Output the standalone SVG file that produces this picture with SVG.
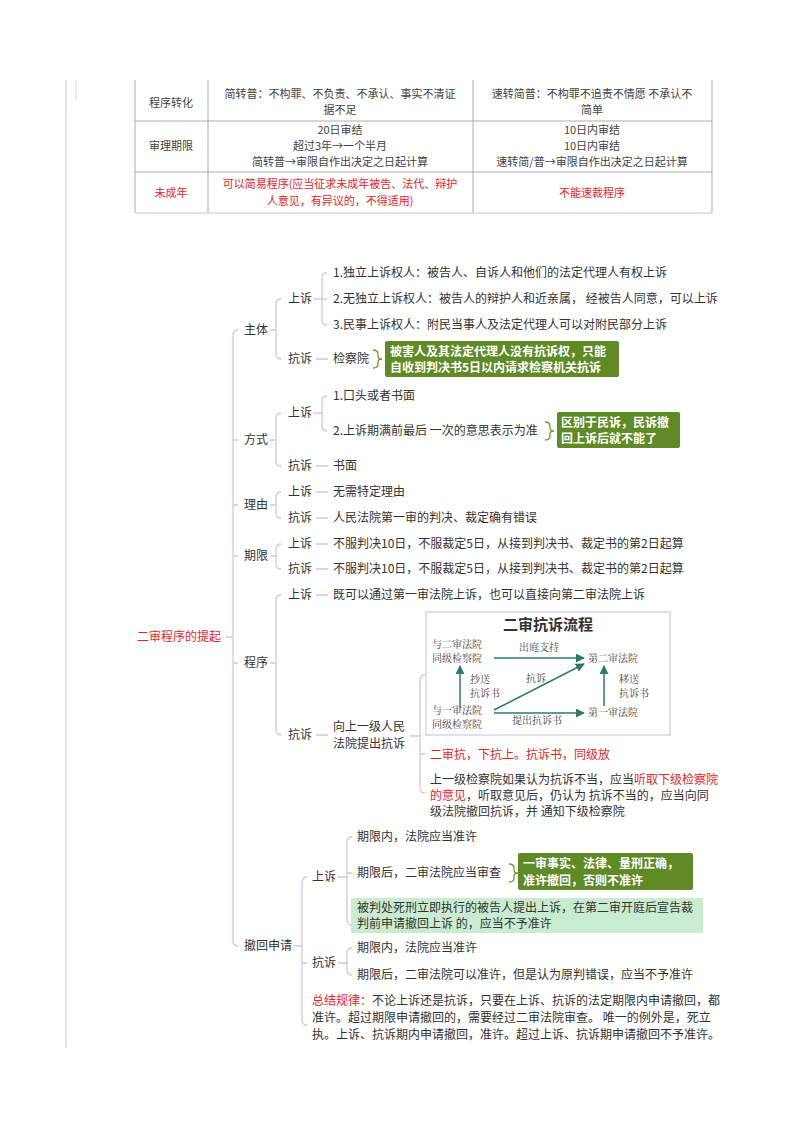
<svg xmlns="http://www.w3.org/2000/svg" width="800" height="1132" viewBox="0 0 800 1132">
<defs>
<style>
text{font-family:"Noto Sans CJK SC","Noto Sans",sans-serif;font-size:12px;fill:#333}
.t{font-size:11px;fill:#444;text-anchor:middle}
.r{fill:#e8231f}
.c{fill:none;stroke:#cfc8ee;stroke-width:1.3}
.g{fill:#5f8a26;}
.w{fill:#fff;font-weight:bold;font-size:12px}
.f{font-family:"Noto Serif CJK SC","Noto Sans CJK SC",serif;font-size:10px;fill:#444}
.a{stroke:#2e7a6a;stroke-width:1.5;fill:none;marker-end:url(#ar)}
.br{fill:none;stroke:#6f9a2e;stroke-width:1.3}
</style>
<marker id="ar" viewBox="0 0 10 10" refX="9" refY="5" markerWidth="6" markerHeight="6" orient="auto"><path d="M0,0L10,5L0,10z" fill="#2e7a6a"/></marker>
</defs>
<rect width="800" height="1132" fill="#fff"/>
<line x1="66" y1="80" x2="66" y2="1048" stroke="#d8d4ea" stroke-width="1.5"/>
<line x1="76" y1="80" x2="76" y2="100" stroke="#d8d4ea" stroke-width="1"/>
<g id="table">
<g fill="none" stroke="#999" stroke-width="0.8">
<line x1="135" y1="80" x2="135" y2="213"/><line x1="208" y1="80" x2="208" y2="213"/><line x1="473" y1="80" x2="473" y2="213"/><line x1="712" y1="80" x2="712" y2="213"/>
<line x1="135" y1="121" x2="712" y2="121"/><line x1="135" y1="172" x2="712" y2="172"/>
</g>
<line x1="135" y1="213" x2="712" y2="213" stroke="#c8c2e6" stroke-width="1.2"/>
<text class="t" x="171" y="107">程序转化</text>
<text class="t" x="340" y="98">简转普：不构罪、不负责、不承认、事实不清证</text>
<text class="t" x="340" y="114">据不足</text>
<text class="t" x="592" y="98">速转简普：不构罪不追责不情愿 不承认不</text>
<text class="t" x="592" y="114">简单</text>
<text class="t" x="171" y="150">审理期限</text>
<text class="t" x="340" y="134">20日审结</text>
<text class="t" x="340" y="150">超过3年→一个半月</text>
<text class="t" x="340" y="166">简转普→审限自作出决定之日起计算</text>
<text class="t" x="592" y="134">10日内审结</text>
<text class="t" x="592" y="150">10日内审结</text>
<text class="t" x="592" y="166">速转简/普→审限自作出决定之日起计算</text>
<text class="t r" x="171" y="197">未成年</text>
<text class="t r" x="340" y="188">可以简易程序(应当征求未成年被告、法代、辩护</text>
<text class="t r" x="340" y="205">人意见，有异议的，不得适用)</text>
<text class="t r" x="592" y="197">不能速裁程序</text>
</g>
<g id="connectors">
<path class="c" d="M226,637H233M238,330Q233,330 233,335V941Q233,946 238,946M233,440H238M233,505H238M233,556H238M233,663H238"/>
<path class="c" d="M270,330H276M281,299Q276,299 276,304V354Q276,359 281,359"/>
<path class="c" d="M314,299H322M327,273Q322,273 322,278V320Q322,325 327,325M322,299H327M316,359H328"/>
<path class="c" d="M270,440H276M281,413Q276,413 276,418V461Q276,466 281,466M316,466H328"/>
<path class="c" d="M314,413H322M327,396Q322,396 322,401V426Q322,431 327,431"/>
<path class="c" d="M270,505H276M281,492Q276,492 276,497V513Q276,518 281,518M316,492H328M316,518H328"/>
<path class="c" d="M270,556H276M281,544Q276,544 276,549V564Q276,569 281,569M316,544H328M316,569H328"/>
<path class="c" d="M270,663H276M281,595Q276,595 276,600V730Q276,735 281,735M316,595H328M316,735H328"/>
<path class="c" d="M410,736H420M425,675Q420,675 420,680V788Q420,793 425,793M420,754H425"/>
<path class="c" d="M294,946H302M307,877Q302,877 302,882V1020Q302,1025 307,1025M302,963H307"/>
<path class="c" d="M338,877H347M352,837Q347,837 347,842V920Q347,925 352,925M347,873H352"/>
<path class="c" d="M338,963H347M352,948Q347,948 347,953V970Q347,975 352,975"/>
</g>
<g id="root"><text class="r" x="137" y="641">二审程序的提起</text></g>
<g id="zhuti">
<text x="244" y="334">主体</text>
<text x="288" y="303">上诉</text>
<text x="333" y="277">1.独立上诉权人：被告人、自诉人和他们的法定代理人有权上诉</text>
<text x="333" y="303">2.无独立上诉权人：被告人的辩护人和近亲属，  经被告人同意，可以上诉</text>
<text x="333" y="329">3.民事上诉权人：附民当事人及法定代理人可以对附民部分上诉</text>
<text x="288" y="363">抗诉</text>
<text x="333" y="363">检察院</text>
<path class="br" d="M373,350Q378,350 378,354V356Q378,359 382,359Q378,359 378,362V364Q378,368 373,368"/>
<rect class="g" x="385" y="341" width="234" height="36" rx="2"/>
<text class="w" x="390" y="356">被害人及其法定代理人没有抗诉权，只能</text>
<text class="w" x="390" y="372">自收到判决书5日以内请求检察机关抗诉</text>
</g>
<g id="fangshi">
<text x="244" y="444">方式</text>
<text x="288" y="417">上诉</text>
<text x="333" y="400">1.口头或者书面</text>
<text x="333" y="435">2.上诉期满前最后 一次的意思表示为准</text>
<path class="br" d="M545,422Q550,422 550,426V428Q550,431 554,431Q550,431 550,434V436Q550,440 545,440"/>
<rect class="g" x="557" y="412" width="123" height="36" rx="2"/>
<text class="w" x="561" y="427">区别于民诉，民诉撤</text>
<text class="w" x="561" y="443">回上诉后就不能了</text>
<text x="288" y="470">抗诉</text>
<text x="333" y="470">书面</text>
</g>
<g id="liyou">
<text x="244" y="509">理由</text>
<text x="288" y="496">上诉</text><text x="333" y="496">无需特定理由</text>
<text x="288" y="522">抗诉</text><text x="333" y="522">人民法院第一审的判决、裁定确有错误</text>
</g>
<g id="qixian">
<text x="244" y="560">期限</text>
<text x="288" y="548">上诉</text><text x="333" y="548">不服判决10日，不服裁定5日，从接到判决书、裁定书的第2日起算</text>
<text x="288" y="573">抗诉</text><text x="333" y="573">不服判决10日，不服裁定5日，从接到判决书、裁定书的第2日起算</text>
</g>
<g id="chengxu">
<text x="244" y="667">程序</text>
<text x="288" y="599">上诉</text><text x="333" y="599">既可以通过第一审法院上诉，也可以直接向第二审法院上诉</text>
<text x="288" y="739">抗诉</text>
<text x="333" y="731">向上一级人民</text>
<text x="333" y="748">法院提出抗诉</text>
<rect x="426" y="612" width="244" height="123" fill="#fff" stroke="#cfc8ee" stroke-width="1.2"/>
<text x="548" y="630" text-anchor="middle" style="font-size:15px;font-weight:bold;fill:#333">二审抗诉流程</text>
<text class="f" x="432" y="648">与二审法院</text>
<text class="f" x="432" y="662">同级检察院</text>
<text class="f" x="588" y="662">第二审法院</text>
<text class="f" x="432" y="714">与一审法院</text>
<text class="f" x="432" y="728">同级检察院</text>
<text class="f" x="588" y="716">第一审法院</text>
<line class="a" x1="494" y1="658" x2="584" y2="658"/>
<text class="f" x="519" y="651">出庭支持</text>
<line class="a" x1="460" y1="708" x2="460" y2="666"/>
<text class="f" x="470" y="683">抄送</text><text class="f" x="470" y="697">抗诉书</text>
<line class="a" x1="494" y1="710" x2="584" y2="664"/>
<text class="f" x="526" y="682">抗诉</text>
<line class="a" x1="494" y1="713" x2="584" y2="713"/>
<text class="f" x="512" y="724">提出抗诉书</text>
<line class="a" x1="604" y1="706" x2="604" y2="666"/>
<text class="f" x="619" y="683">移送</text><text class="f" x="619" y="697">抗诉书</text>
<text class="r" x="430" y="759">二审抗，下抗上。抗诉书，同级放</text>
<text x="430" y="784">上一级检察院如果认为抗诉不当，应当<tspan class="r">听取下级检察院</tspan></text>
<text x="430" y="800"><tspan class="r">的意见</tspan>，听取意见后，仍认为  抗诉不当的，应当向同</text>
<text x="430" y="816">级法院撤回抗诉，并 通知下级检察院</text>
</g>
<g id="chehui">
<text x="244" y="950">撤回申请</text>
<text x="312" y="881">上诉</text>
<text x="357" y="841">期限内，法院应当准许</text>
<text x="357" y="877">期限后，二审法院应当审查</text>
<path class="br" d="M509,864Q514,864 514,868V870Q514,873 518,873Q514,873 514,876V878Q514,882 509,882"/>
<rect class="g" x="518" y="853" width="175" height="37" rx="2"/>
<text class="w" x="523" y="868">一审事实、法律、量刑正确，</text>
<text class="w" x="523" y="885">准许撤回，否则不准许</text>
<rect x="351" y="898" width="352" height="35" fill="#c9ebd0"/>
<text x="357" y="912">被判处死刑立即执行的被告人提出上诉，在第二审开庭后宣告裁</text>
<text x="357" y="928">判前申请撤回上诉 的，应当不予准许</text>
<text x="312" y="967">抗诉</text>
<text x="357" y="952">期限内，法院应当准许</text>
<text x="357" y="979">期限后，二审法院可以准许，但是认为原判错误，应当不予准许</text>
<text x="312" y="1005"><tspan class="r">总结规律：</tspan>不论上诉还是抗诉，只要在上诉、抗诉的法定期限内申请撤回，都</text>
<text x="312" y="1022">准许。超过期限申请撤回的，需要经过二审法院审查。 唯一的例外是，死立</text>
<text x="312" y="1039">执。上诉、抗诉期内申请撤回，准许。超过上诉、抗诉期申请撤回不予准许。</text>
</g>
</svg>
